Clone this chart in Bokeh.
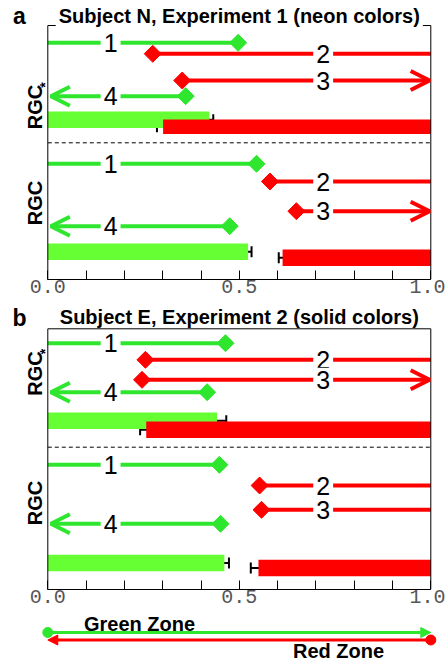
import math
from bokeh.plotting import figure
from bokeh.layouts import column
from bokeh.models import (Range1d, FixedTicker, NumeralTickFormatter, ColumnDataSource,
                          Arrow, OpenHead, NormalHead, TeeHead, Whisker, Label,
                          BoxAnnotation)
from bokeh.embed import file_html
from bokeh.resources import INLINE

# ---------------- data ----------------
titles = ["Subject N, Experiment 1 (neon colors)", "Subject E, Experiment 2 (solid colors)"]
panel_letters = ["a", "b"]
conditions = ["RGC", "RGC"]          # first row of each panel carries a star
condition_star = ["*", ""]
line_labels = ["1", "2", "3", "4"]

# Panel a (Subject N, Experiment 1): values for [RGC*, RGC]
a_line1 = [0.497, 0.545]
a_line2 = [0.274, 0.580]
a_line3 = [0.351, 0.649]
a_line4 = [0.360, 0.475]
a_line3_arrow = [True, True]
a_green_bar = [0.422, 0.523]
a_green_err = [0.010, 0.009]
a_red_bar = [0.301, 0.613]
a_red_err = [0.016, 0.010]

# Panel b (Subject E, Experiment 2): values for [RGC*, RGC]
b_line1 = [0.464, 0.448]
b_line2 = [0.255, 0.553]
b_line3 = [0.246, 0.558]
b_line4 = [0.416, 0.451]
b_line3_arrow = [True, False]
b_green_bar = [0.442, 0.461]
b_green_err = [0.024, 0.012]
b_red_bar = [0.257, 0.550]
b_red_err = [0.016, 0.020]

x_ticks = [0.0, 0.5, 1.0]
x_minor_ticks = [0.1, 0.2, 0.3, 0.4, 0.6, 0.7, 0.8, 0.9]
zone_bounds = [0.0, 1.0]
zone_names = ["Green Zone", "Red Zone"]

# ---------------- styles / layout (pixel positions) ----------------
GREEN = "#2ee62e"
GREEN_BAR = "#66ff33"
RED = "#ff0000"
W = 445
PX0, SCALE = 47.3, 383.0          # pixel of x=0 and pixels per unit
XR = (-PX0 / SCALE, (W - PX0) / SCALE)
ARROW_LEFT, ARROW_RIGHT = 0.008, 0.997
LABEL_X = [0.164, 0.719, 0.719, 0.164]

LAYOUT = {
    "a": dict(fig_top=0, frame_h=279, bottom=23, box_top=25, dash=142.3,
              title_y=15.0, letter_y=15.5,
              rows=[dict(l=[42.3, 53.3, 80.0, 95.7], g=119.3, r=126.2, gh=16.5, rh=14.5, lab=106.5),
                    dict(l=[163.3, 181.0, 210.7, 225.7], g=251.3, r=257.3, gh=16.5, rh=16.5, lab=202.5)]),
    "b": dict(fig_top=302, frame_h=287, bottom=23, box_top=328.3, dash=446.7,
              title_y=316.7, letter_y=317.0,
              rows=[dict(l=[342.7, 359.3, 379.3, 391.7], g=420.3, r=429.2, gh=16.5, rh=16.5, lab=373.0),
                    dict(l=[464.3, 485.0, 509.3, 523.3], g=562.5, r=567.5, gh=16.5, rh=16.5, lab=502.5)]),
}


def build_panel(key, title, letter, l1, l2, l3, l4, l3_arrow, gbar, gerr, rbar, rerr, cover_top):
    L = LAYOUT[key]
    rows = L["rows"]
    top = L["fig_top"]
    bot = top + L["frame_h"]
    p = figure(width=W, height=L["frame_h"] + L["bottom"],
               frame_width=W, frame_height=L["frame_h"],
               x_range=Range1d(*XR), y_range=Range1d(bot, top),
               min_border_left=0, min_border_right=0,
               min_border_top=0, min_border_bottom=L["bottom"],
               y_axis_location=None, toolbar_location=None, output_backend="svg")
    p.grid.visible = False
    p.outline_line_color = None
    p.background_fill_color = "white"
    p.border_fill_color = "white"

    ax = p.xaxis[0]
    ax.bounds = (0, 1)
    ax.ticker = FixedTicker(ticks=x_ticks, minor_ticks=x_minor_ticks)
    ax.formatter = NumeralTickFormatter(format="0.0")
    ax.major_tick_in = 9
    ax.major_tick_out = 0
    ax.minor_tick_in = 9
    ax.minor_tick_out = 0
    ax.major_tick_line_color = "black"
    ax.minor_tick_line_color = "black"
    ax.axis_line_color = "black"
    ax.major_label_standoff = 0
    ax.major_label_text_font = "Liberation Mono"
    ax.major_label_text_font_size = "20px"
    ax.major_label_text_color = "#555555"

    # bars
    gsrc = ColumnDataSource(dict(y=[r["g"] for r in rows], left=[0.0] * len(gbar), right=gbar,
                                 h=[r["gh"] for r in rows]))
    rsrc = ColumnDataSource(dict(y=[r["r"] for r in rows], left=rbar, right=[1.0] * len(rbar),
                                 h=[r["rh"] for r in rows]))
    p.hbar(y="y", left="left", right="right", height="h", source=gsrc,
           fill_color=GREEN_BAR, line_color=None)
    p.hbar(y="y", left="left", right="right", height="h", source=rsrc,
           fill_color=RED, line_color=None)

    # plain lines (1: green from 0, 2: red to 1, 3 without arrow)
    seg_g = ColumnDataSource(dict(x0=[0.0] * len(l1), x1=l1, y=[r["l"][0] for r in rows]))
    p.segment(x0="x0", y0="y", x1="x1", y1="y", source=seg_g, line_color=GREEN, line_width=4)
    r2_x0 = list(l2) + [v for v, a in zip(l3, l3_arrow) if not a]
    r2_y = [r["l"][1] for r in rows] + [r["l"][2] for r, a in zip(rows, l3_arrow) if not a]
    seg_r = ColumnDataSource(dict(x0=r2_x0, x1=[1.0] * len(r2_x0), y=r2_y))
    p.segment(x0="x0", y0="y", x1="x1", y1="y", source=seg_r, line_color=RED, line_width=4)

    # diamonds
    dg = ColumnDataSource(dict(x=list(l1) + list(l4),
                               y=[r["l"][0] for r in rows] + [r["l"][3] for r in rows]))
    dr = ColumnDataSource(dict(x=list(l2) + list(l3),
                               y=[r["l"][1] for r in rows] + [r["l"][2] for r in rows]))
    p.scatter(x="x", y="y", source=dg, marker="square", angle=math.pi / 4, size=12,
              fill_color=GREEN, line_color=GREEN)
    p.scatter(x="x", y="y", source=dr, marker="square", angle=math.pi / 4, size=12,
              fill_color=RED, line_color=RED)

    # panel box
    p.add_layout(BoxAnnotation(left=0, right=1, top=L["box_top"], bottom=bot,
                               fill_color=None, fill_alpha=0, line_color="black",
                               line_width=1, line_alpha=1))

    # error bars
    for vals, errs, yk in ((gbar, gerr, "g"), (rbar, rerr, "r")):
        esrc = ColumnDataSource(dict(base=[r[yk] for r in rows],
                                     lower=[v - e for v, e in zip(vals, errs)],
                                     upper=[v + e for v, e in zip(vals, errs)]))
        p.add_layout(Whisker(source=esrc, base="base", lower="lower", upper="upper",
                             dimension="width", line_color="black", line_width=2,
                             upper_head=TeeHead(size=11, line_color="black", line_width=2),
                             lower_head=TeeHead(size=11, line_color="black", line_width=2)))

    # separator
    sep = ColumnDataSource(dict(x0=[0.0], x1=[1.0], y=[L["dash"]]))
    p.segment(x0="x0", y0="y", x1="x1", y1="y", source=sep, line_color="black",
              line_width=1, line_dash="4 3")

    # arrows
    a3 = [(v, r["l"][2]) for v, r, a in zip(l3, rows, l3_arrow) if a]
    if a3:
        asrc = ColumnDataSource(dict(x0=[v for v, _ in a3], x1=[ARROW_RIGHT] * len(a3),
                                     y=[yy for _, yy in a3]))
        p.add_layout(Arrow(source=asrc, x_start="x0", y_start="y", x_end="x1", y_end="y",
                           line_color=RED, line_width=4,
                           end=OpenHead(size=19, line_color=RED, line_width=4)))
    a4src = ColumnDataSource(dict(x0=l4, x1=[ARROW_LEFT] * len(l4), y=[r["l"][3] for r in rows]))
    p.add_layout(Arrow(source=a4src, x_start="x0", y_start="y", x_end="x1", y_end="y",
                       line_color=GREEN, line_width=4,
                       end=OpenHead(size=19, line_color=GREEN, line_width=4)))

    # number labels with white gaps
    for r in rows:
        for i, t in enumerate(line_labels):
            p.add_layout(Label(x=LABEL_X[i], y=r["l"][i], text=t, text_align="center",
                               text_baseline="middle", text_font="Liberation Sans",
                               text_font_size="25px", text_color="black",
                               background_fill_color="white", padding=3))

    # condition labels
    for r, name, star in zip(rows, conditions, condition_star):
        p.add_layout(Label(x=(34.5 - PX0) / SCALE, y=r["lab"], text=name, angle=math.pi / 2,
                           text_align="center", text_baseline="middle",
                           text_font="Liberation Sans", text_font_style="bold",
                           text_font_size="20px", text_color="black"))
        if star:
            p.add_layout(Label(x=(44.0 - PX0) / SCALE, y=r["lab"] - 22, text=star,
                               angle=math.pi / 2, text_align="center", text_baseline="middle",
                               text_font="Liberation Sans", text_font_style="bold",
                               text_font_size="14px", text_color="black"))

    # title and panel letter
    tl = Label(x=0.5, y=L["title_y"], text=title, text_align="center",
               text_baseline="middle", text_font="Liberation Sans",
               text_font_style="bold", text_font_size="20px", text_color="black")
    if cover_top:
        tl.background_fill_color = "white"
        tl.padding = 3
    p.add_layout(tl)
    p.add_layout(Label(x=(19.0 - PX0) / SCALE, y=L["letter_y"], text=letter, text_align="center",
                       text_baseline="middle", text_font="Liberation Sans",
                       text_font_style="bold", text_font_size="23px", text_color="black"))
    return p


pa = build_panel("a", titles[0], panel_letters[0], a_line1, a_line2, a_line3, a_line4,
                 a_line3_arrow, a_green_bar, a_green_err, a_red_bar, a_red_err, True)
pb = build_panel("b", titles[1], panel_letters[1], b_line1, b_line2, b_line3, b_line4,
                 b_line3_arrow, b_green_bar, b_green_err, b_red_bar, b_red_err, False)

# ---------------- zone legend ----------------
Z_TOP = 612
ZH = 50
pz = figure(width=W, height=ZH, frame_width=W, frame_height=ZH,
            x_range=Range1d(*XR), y_range=Range1d(Z_TOP + ZH, Z_TOP),
            min_border=0, min_border_left=0, min_border_right=0, min_border_top=0,
            min_border_bottom=0, x_axis_location=None, y_axis_location=None,
            toolbar_location=None, output_backend="svg")
pz.grid.visible = False
pz.outline_line_color = None
GY, RY = 632.0, 639.5
zsrc_g = ColumnDataSource(dict(x0=[zone_bounds[0]], x1=[zone_bounds[1]], y=[GY]))
zsrc_r = ColumnDataSource(dict(x0=[zone_bounds[1]], x1=[zone_bounds[0]], y=[RY]))
pz.add_layout(Arrow(source=zsrc_g, x_start="x0", y_start="y", x_end="x1", y_end="y",
                    line_color=GREEN, line_width=3,
                    end=NormalHead(size=10, fill_color=GREEN, line_color=GREEN, line_width=1)))
pz.add_layout(Arrow(source=zsrc_r, x_start="x0", y_start="y", x_end="x1", y_end="y",
                    line_color=RED, line_width=3,
                    end=NormalHead(size=10, fill_color=RED, line_color=RED, line_width=1)))
pz.scatter(x=[zone_bounds[0]], y=[GY], marker="circle", size=10, fill_color=GREEN, line_color=GREEN)
pz.scatter(x=[zone_bounds[1]], y=[RY], marker="circle", size=10, fill_color=RED, line_color=RED)
pz.add_layout(Label(x=(139.0 - PX0) / SCALE, y=623.5, text=zone_names[0], text_align="center",
                    text_baseline="middle", text_font="Liberation Sans",
                    text_font_style="bold", text_font_size="20px", text_color="black"))
pz.add_layout(Label(x=(338.0 - PX0) / SCALE, y=650.5, text=zone_names[1], text_align="center",
                    text_baseline="middle", text_font="Liberation Sans",
                    text_font_style="bold", text_font_size="20px", text_color="black"))

layout = column(pa, pb, pz, spacing=0)
open("out.html", "w").write(file_html(layout, INLINE))
